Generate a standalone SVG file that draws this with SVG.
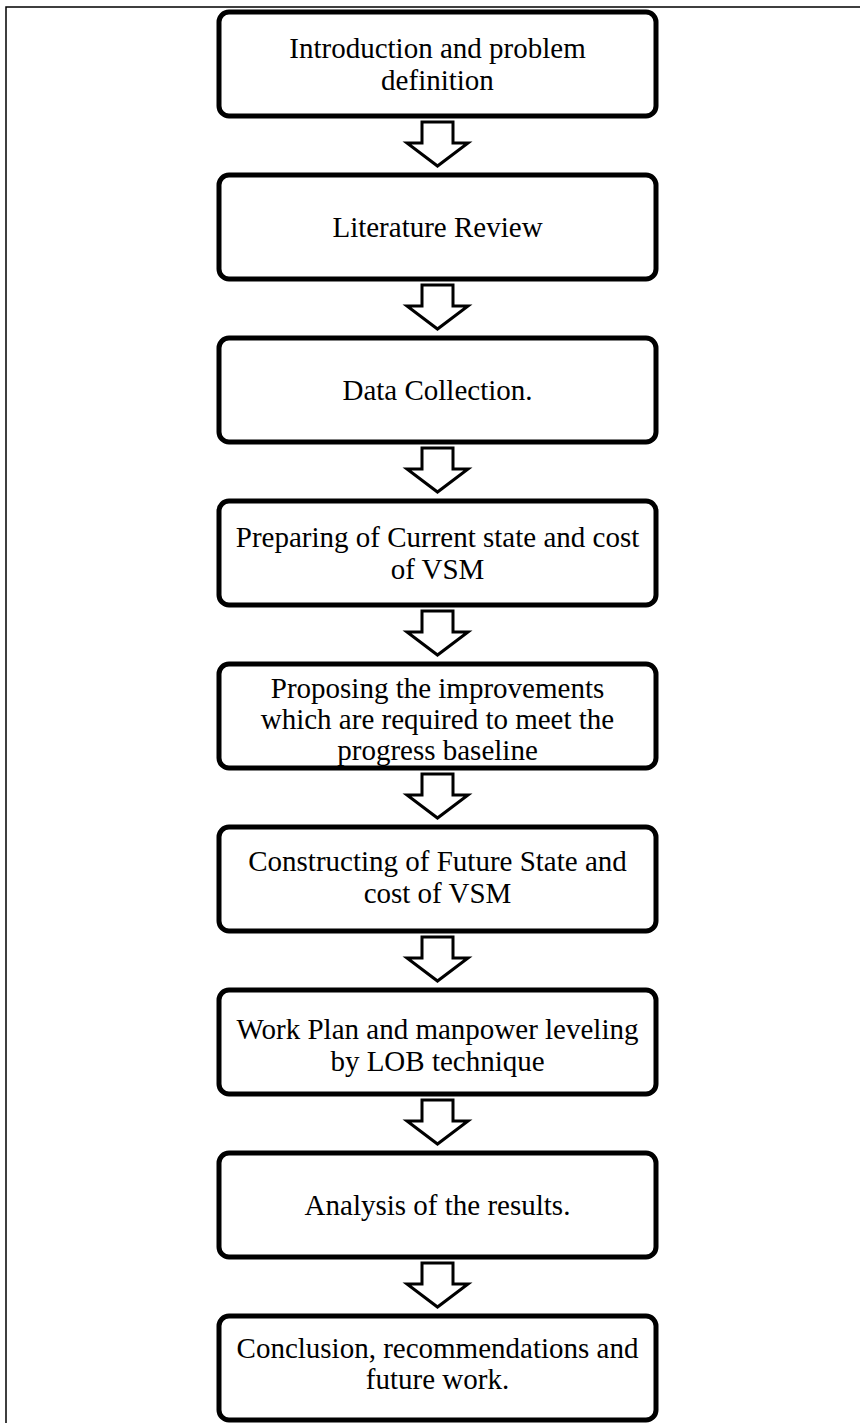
<svg xmlns="http://www.w3.org/2000/svg" xmlns:xlink="http://www.w3.org/1999/xlink" width="860" height="1423" viewBox="0 0 860 1423">
  <style>
    .box { fill: #ffffff; stroke: #000000; stroke-width: 5; }
    .lbl { font-family: "Liberation Serif", "Times New Roman", serif; font-size: 29px; fill: #000000; text-anchor: middle; }
    .arrow { fill: #ffffff; stroke: #000000; stroke-width: 3; stroke-linejoin: miter; }
    .frame { stroke: #000000; stroke-width: 1.5; fill: none; }
  </style>
  <defs>
    <!-- hollow block arrow pointing down, origin at the bottom edge of the box above -->
    <polygon id="downArrow" class="arrow" points="422,6 453,6 453,27 468,27 437.5,50 407,27 422,27"/>
  </defs>
  <rect width="860" height="1423" fill="#ffffff"/>
  <!-- page frame: top rule and left rule -->
  <path class="frame" d="M6,1423 V7 H860"/>

  <g id="connectors">
    <use xlink:href="#downArrow" transform="translate(0,116)"/>
    <use xlink:href="#downArrow" transform="translate(0,279)"/>
    <use xlink:href="#downArrow" transform="translate(0,442)"/>
    <use xlink:href="#downArrow" transform="translate(0,605)"/>
    <use xlink:href="#downArrow" transform="translate(0,768)"/>
    <use xlink:href="#downArrow" transform="translate(0,931)"/>
    <use xlink:href="#downArrow" transform="translate(0,1094)"/>
    <use xlink:href="#downArrow" transform="translate(0,1257)"/>
  </g>

  <g id="node1">
    <rect class="box" x="219" y="12" width="437" height="104" rx="10"/>
    <text class="lbl" x="437.5" y="58">Introduction and problem</text>
    <text class="lbl" x="437.5" y="90">definition</text>
  </g>
  <g id="node2">
    <rect class="box" x="219" y="175" width="437" height="104" rx="10"/>
    <text class="lbl" x="437.5" y="237">Literature Review</text>
  </g>
  <g id="node3">
    <rect class="box" x="219" y="338" width="437" height="104" rx="10"/>
    <text class="lbl" x="437.5" y="400">Data Collection.</text>
  </g>
  <g id="node4">
    <rect class="box" x="219" y="501" width="437" height="104" rx="10"/>
    <text class="lbl" x="437.5" y="547">Preparing of Current state and cost</text>
    <text class="lbl" x="437.5" y="579">of VSM</text>
  </g>
  <g id="node5">
    <rect class="box" x="219" y="664" width="437" height="104" rx="10"/>
    <text class="lbl" x="437.5" y="698">Proposing the improvements</text>
    <text class="lbl" x="437.5" y="729">which are required to meet the</text>
    <text class="lbl" x="437.5" y="760">progress baseline</text>
  </g>
  <g id="node6">
    <rect class="box" x="219" y="827" width="437" height="104" rx="10"/>
    <text class="lbl" x="437.5" y="871">Constructing of Future State and</text>
    <text class="lbl" x="437.5" y="903">cost of VSM</text>
  </g>
  <g id="node7">
    <rect class="box" x="219" y="990" width="437" height="104" rx="10"/>
    <text class="lbl" x="437.5" y="1039">Work Plan and manpower leveling</text>
    <text class="lbl" x="437.5" y="1071">by LOB technique</text>
  </g>
  <g id="node8">
    <rect class="box" x="219" y="1153" width="437" height="104" rx="10"/>
    <text class="lbl" x="437.5" y="1215">Analysis of the results.</text>
  </g>
  <g id="node9">
    <rect class="box" x="219" y="1316" width="437" height="104" rx="10"/>
    <text class="lbl" x="437.5" y="1358">Conclusion, recommendations and</text>
    <text class="lbl" x="437.5" y="1389">future work.</text>
  </g>
</svg>
